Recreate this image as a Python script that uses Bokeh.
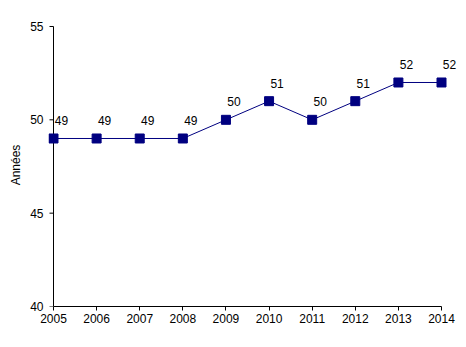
import math
from bokeh.plotting import figure
from bokeh.models import Range1d, ColumnDataSource, FixedTicker
from bokeh.core.properties import value
from bokeh.embed import file_html
from bokeh.resources import INLINE

years = [2005, 2006, 2007, 2008, 2009, 2010, 2011, 2012, 2013, 2014]
ages = [49, 49, 49, 49, 50, 51, 50, 51, 52, 52]
labels = [str(v) for v in ages]
y_ticks = [40, 45, 50, 55]

src = ColumnDataSource(dict(x=years, y=ages, lab=labels))

p = figure(width=466, height=347, output_backend="svg", toolbar_location=None,
           x_range=Range1d(2004.884, 2014.394), y_range=Range1d(40, 55.16),
           min_border_left=48, min_border_right=8, min_border_top=23, min_border_bottom=41)
p.outline_line_color = None
p.grid.visible = False
p.background_fill_color = "white"
p.border_fill_color = "white"

# y axis line and ticks at x = first year
p.segment(x0=[years[0]], y0=[min(y_ticks)], x1=[years[0]], y1=[max(y_ticks)],
          line_color="black", line_width=1)
p.ray(x=[years[0]] * len(y_ticks), y=y_ticks, length=4, length_units="screen",
      angle=math.pi, line_color="black", line_width=1)

p.line("x", "y", source=src, line_color="#000080", line_width=1)
p.scatter("x", "y", source=src, marker="square", size=9, fill_color="#000080", line_color="#000080")
p.text("x", "y", text="lab", source=src, x_offset=8, y_offset=-18,
       text_align="center", text_baseline="middle", text_font=value("Liberation Sans"),
       text_font_size="12px", text_color="black")

for ax in (p.xaxis[0], p.yaxis[0]):
    ax.major_label_text_font = "Liberation Sans"
    ax.major_label_text_font_size = "12px"
    ax.major_label_text_color = "black"
    ax.minor_tick_line_color = None

p.xaxis.axis_line_color = "black"
p.xaxis.major_tick_line_color = "black"
p.xaxis.major_tick_out = 4
p.xaxis.major_tick_in = 0
p.xaxis.ticker = FixedTicker(ticks=years)
p.xaxis.bounds = (2005, 2014)
p.xaxis.major_label_standoff = 3

p.yaxis.ticker = FixedTicker(ticks=y_ticks)
p.yaxis.axis_line_color = None
p.yaxis.major_tick_line_color = None
p.yaxis.major_tick_out = 0
p.yaxis.major_tick_in = 0
p.yaxis.major_label_standoff = 5
p.yaxis.axis_label = "Années"
p.yaxis.axis_label_text_font = "Liberation Sans"
p.yaxis.axis_label_text_font_size = "12px"
p.yaxis.axis_label_text_font_style = "normal"
p.yaxis.axis_label_text_color = "black"
p.yaxis.axis_label_standoff = 4

open("out.html", "w").write(file_html(p, INLINE))
